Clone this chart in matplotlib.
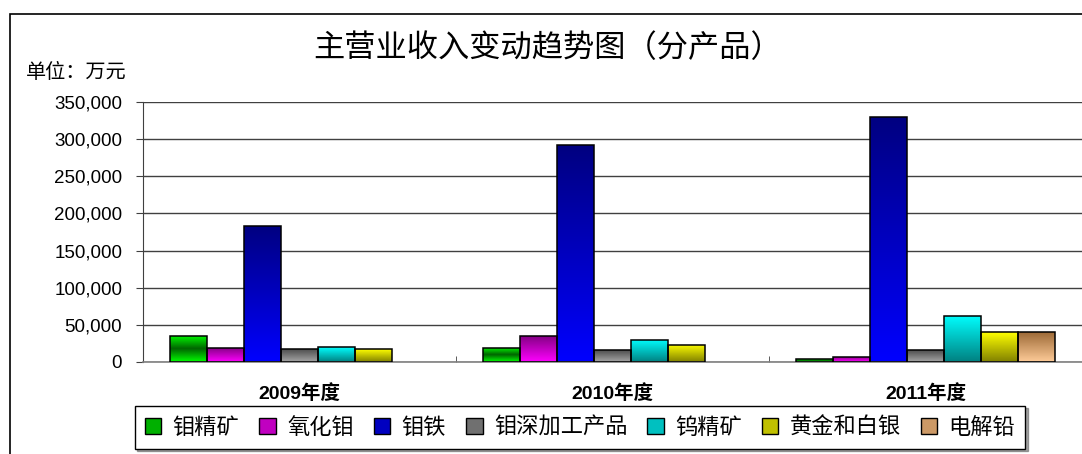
import matplotlib
matplotlib.use('agg')
import matplotlib.pyplot as plt
import numpy as np
from matplotlib.colors import LinearSegmentedColormap
from matplotlib.patches import Patch, Rectangle
from matplotlib.ticker import FuncFormatter, MultipleLocator

plt.rcParams['font.family'] = ['Liberation Sans', 'Noto Sans CJK SC', 'DejaVu Sans']

years = ['2009年度', '2010年度', '2011年度']
products = ['钼精矿', '氧化钼', '钼铁', '钼深加工产品', '钨精矿', '黄金和白银', '电解铅']

# 万元, one list per product, by year
moly_concentrate = [35300, 19200, 3600]
moly_oxide = [19200, 35300, 7100]
ferro_moly = [183300, 292000, 330000]
moly_deep = [17400, 16100, 15700]
tungsten = [19700, 29900, 62000]
gold_silver = [17400, 23200, 40300]
lead = [0, 0, 40700]
values = [moly_concentrate, moly_oxide, ferro_moly, moly_deep, tungsten, gold_silver, lead]

# gradient stops, top of bar -> bottom of bar
fills = [
    ['#00FF00', '#006400', '#00FF00'],
    ['#800080', '#FF00FF'],
    ['#000080', '#0000FF'],
    ['#4D4D4D', '#A6A6A6'],
    ['#00FFFF', '#008080'],
    ['#FFFF00', '#808000'],
    ['#996633', '#FFCC99'],
]
legend_colors = ['#00B000', '#C000C0', '#0000C0', '#707070', '#00C0C0', '#C0C000', '#CC9966']


def gradient_bar(ax, bar, stops):
    x0, y0 = bar.get_x(), bar.get_y()
    w, h = bar.get_width(), bar.get_height()
    if h <= 0:
        bar.set_linewidth(0)
        return
    cmap = LinearSegmentedColormap.from_list('g', stops)
    grad = np.linspace(0, 1, 256).reshape(-1, 1)
    im = ax.imshow(grad, cmap=cmap, aspect='auto', origin='upper',
                   extent=(x0, x0 + w, y0, y0 + h), zorder=2.5,
                   interpolation='bilinear')
    im.set_clip_path(bar)


fig = plt.figure(figsize=(10.82, 4.54), dpi=100)

# outer chart frame (runs off the right and bottom edges)
fig.patches.append(Rectangle((10 / 1082, -0.1), 1.2, 1 - 14 / 454 + 0.1,
                             transform=fig.transFigure, fill=False,
                             edgecolor='black', linewidth=1.2))

ax = fig.add_axes([143 / 1082, 1 - 362 / 454, 1 - 143 / 1082, 260 / 454])

n = len(products)
bw = 37 / 313
x = np.arange(len(years))
for i, (vals, stops) in enumerate(zip(values, fills)):
    bars = ax.bar(x + (i - (n - 1) / 2) * bw, vals, bw, facecolor='none',
                  edgecolor='black', linewidth=1.1, zorder=3)
    for b in bars:
        gradient_bar(ax, b, stops)

ax.set_xlim(-0.5, 2.5)
ax.set_ylim(0, 350000)
ax.yaxis.set_major_locator(MultipleLocator(50000))
ax.yaxis.set_major_formatter(FuncFormatter(lambda v, p: f'{v:,.0f}'))
ax.grid(axis='y', color='#404040', linewidth=1.0, zorder=0)
ax.set_axisbelow(True)

ax.set_xticks(x)
ax.set_xticklabels(years, fontsize=14, fontweight='bold')
ax.set_xticks([0.5, 1.5], minor=True)
ax.tick_params(axis='x', which='major', length=0, pad=16)
ax.tick_params(axis='x', which='minor', direction='in', length=4, color='#404040')
ax.tick_params(axis='y', labelsize=13.5, length=5, color='#404040', pad=10)

for s in ['top', 'right']:
    ax.spines[s].set_visible(False)
ax.spines['left'].set_color('#404040')
ax.spines['bottom'].set_color('#808080')
ax.spines['bottom'].set_linewidth(1.2)

fig.text(548 / 1082, 1 - 48 / 454, '主营业收入变动趋势图（分产品）', ha='center', va='center',
         fontsize=22.5, family=['Noto Sans CJK SC'], fontweight='medium')
fig.text(127 / 1082, 1 - 73 / 454, '单位：万元', ha='right', va='center',
         fontsize=14.5, family=['Noto Sans CJK SC'])

handles = [Patch(facecolor=c, edgecolor='black', linewidth=1.0) for c in legend_colors]
leg = fig.legend(handles, products, loc='center', bbox_to_anchor=(580 / 1082, 1 - 427 / 454),
                 ncol=7, frameon=True, fancybox=False, shadow=True,
                 prop={'family': ['Noto Sans CJK SC'], 'size': 16},
                 handlelength=0.75, handleheight=0.75, handletextpad=0.5,
                 columnspacing=0.9, borderpad=0.45)
leg.get_frame().set_edgecolor('black')
leg.get_frame().set_linewidth(1.0)

fig.savefig('out.png', dpi=100)
